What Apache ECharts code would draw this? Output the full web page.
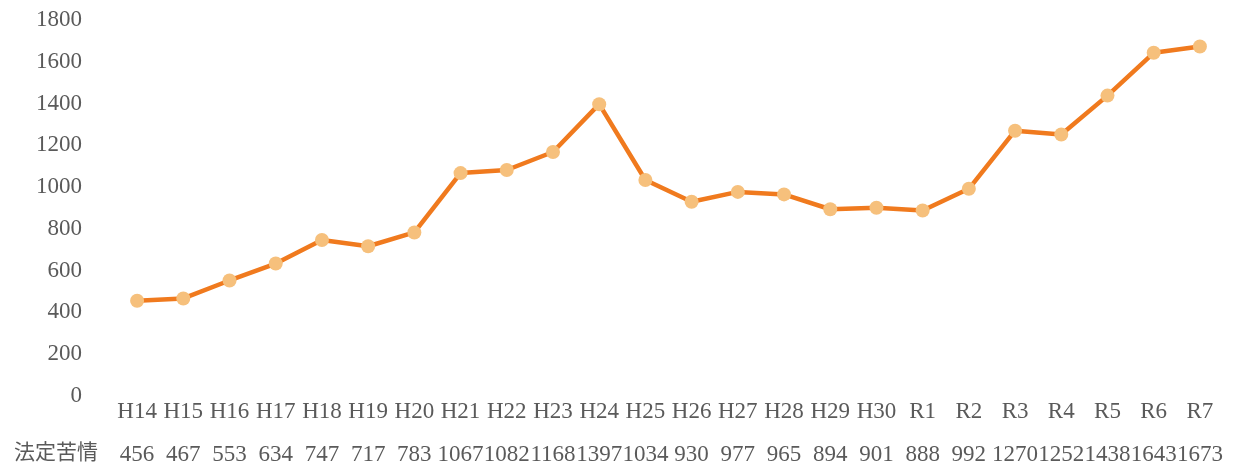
<!DOCTYPE html>
<html><head><meta charset="utf-8">
<script src="https://cdn.jsdelivr.net/npm/echarts@6/dist/echarts.min.js"></script>
<style>html,body{margin:0;padding:0;background:#fff;}#c{width:1236px;height:466px;}</style>
</head><body><div id="c"></div>
<script>
const categories = ['H14','H15','H16','H17','H18','H19','H20','H21','H22','H23','H24','H25','H26','H27','H28','H29','H30','R1','R2','R3','R4','R5','R6','R7'];
const seriesName = '法定苦情';
const values = [456,467,553,634,747,717,783,1067,1082,1168,1397,1034,930,977,965,894,901,888,992,1270,1252,1438,1643,1673];
const yTicks = {min:0, max:1800, interval:200};

const serif = '"Liberation Serif","DejaVu Serif",serif';
const chart = echarts.init(document.getElementById('c'), null, {renderer:'canvas'});
chart.setOption({
  animation:false,
  backgroundColor:'#fff',
  grid:{left:114,right:13,top:20,bottom:70,containLabel:false},
  xAxis:[{
    type:'category', data:categories, boundaryGap:true, position:'bottom',
    axisLine:{show:false}, axisTick:{show:false},
    axisLabel:{interval:0, margin:4, color:'#5a5a5a', fontFamily:serif, fontSize:23}
  },{
    type:'category', data:values.map(String), boundaryGap:true, position:'bottom', offset:43,
    axisLine:{show:false}, axisTick:{show:false},
    axisLabel:{interval:0, margin:4, color:'#5a5a5a', fontFamily:serif, fontSize:23}
  }],
  yAxis:{
    type:'value', min:yTicks.min, max:yTicks.max, interval:yTicks.interval,
    axisLine:{show:false}, axisTick:{show:false}, splitLine:{show:false},
    axisLabel:{margin:32, color:'#5a5a5a', fontFamily:serif, fontSize:23, formatter:(v)=>String(v)}
  },
  graphic:[{
    type:'text', left:14, top:441,
    style:{text:seriesName, fill:'#5a5a5a', font:'21px "Noto Sans CJK JP",sans-serif'}
  }],
  series:[{
    name:seriesName, type:'line', data:values,
    lineStyle:{color:'#F07A1E', width:4.5},
    itemStyle:{color:'#F6C07C', borderWidth:0},
    symbol:'circle', symbolSize:14, showSymbol:true
  }]
});
</script></body></html>
